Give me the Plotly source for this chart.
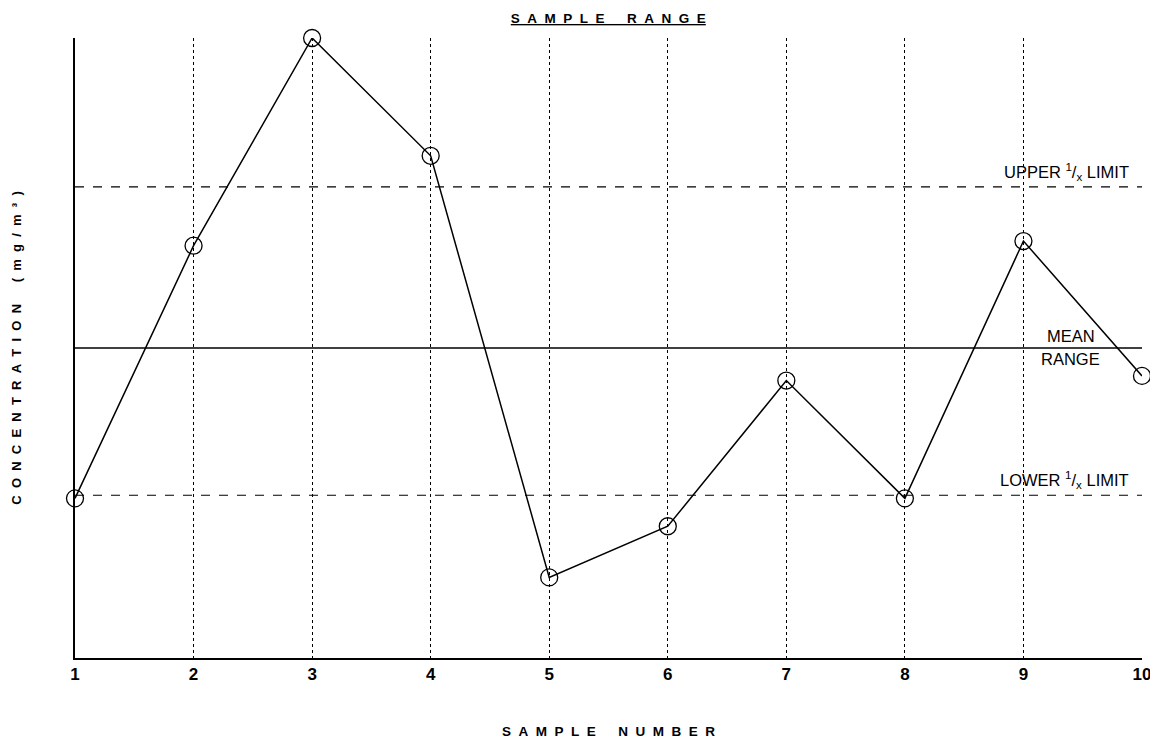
import plotly.graph_objects as go

# ---- data ----
sample_numbers = [1, 2, 3, 4, 5, 6, 7, 8, 9, 10]
concentration = [5.15, 13.3, 20.0, 16.2, 2.6, 4.25, 8.95, 5.15, 13.45, 9.1]
mean_range = 10.0
upper_limit = 15.2
lower_limit = 5.25
tick_labels = ["1", "2", "3", "4", "5", "6", "7", "8", "9", "10"]

FONT = "Liberation Sans, Arial, sans-serif"

def spaced(s, n=2):
    gap = "\u00a0" * n
    return gap.join(ch if ch != " " else "\u00a0\u00a0" for ch in s)

fig = go.Figure()

fig.add_trace(go.Scatter(
    x=sample_numbers, y=concentration, mode="lines+markers",
    line=dict(color="black", width=1.5),
    marker=dict(symbol="circle-open", size=17, color="black", line=dict(width=1.3)),
    cliponaxis=False, showlegend=False, hoverinfo="skip",
))

# reference lines
fig.add_hline(y=mean_range, line=dict(color="black", width=1.5))
fig.add_hline(y=upper_limit, line=dict(color="black", width=1.2, dash="dash"))
fig.add_hline(y=lower_limit, line=dict(color="black", width=1.2, dash="dash"))

ann_font = dict(family=FONT, size=16.5, color="black")
fig.add_annotation(x=0.99, xref="paper", y=upper_limit, yref="y", yshift=15,
                   text="UPPER <sup>1</sup>/<sub>x</sub> LIMIT", showarrow=False,
                   xanchor="right", font=ann_font)
fig.add_annotation(x=0.99, xref="paper", y=lower_limit, yref="y", yshift=15,
                   text="LOWER <sup>1</sup>/<sub>x</sub> LIMIT", showarrow=False,
                   xanchor="right", font=ann_font)
fig.add_annotation(x=0.933, xref="paper", y=mean_range, yref="y", yshift=12,
                   text="MEAN", showarrow=False, xanchor="center", font=ann_font)
fig.add_annotation(x=0.933, xref="paper", y=mean_range, yref="y", yshift=-11,
                   text="RANGE", showarrow=False, xanchor="center", font=ann_font)

# the page body has an 8px default margin, so the figure is sized to fit
fig.update_layout(
    width=1150, height=733,
    margin=dict(l=67, r=16, t=30, b=83),
    paper_bgcolor="white", plot_bgcolor="white",
    title=dict(text="<b><u>" + spaced("SAMPLE RANGE") + "</u></b>", x=0.522, xanchor="center",
               y=0.986, yanchor="middle", font=dict(family=FONT, size=13.5, color="black")),
    xaxis=dict(
        range=[1, 10], tickmode="array", tickvals=sample_numbers, ticktext=tick_labels,
        showgrid=True, gridcolor="black", griddash="dot", gridwidth=1,
        showline=True, linecolor="black", linewidth=2, ticks="", zeroline=False,
        automargin=False,
        tickfont=dict(family=FONT, size=17, color="black", weight="bold"),
        title=dict(text="<b>" + spaced("SAMPLE NUMBER") + "</b>",
                   font=dict(family=FONT, size=13.5, color="black"), standoff=43),
    ),
    yaxis=dict(
        range=[0, 20], showticklabels=False, showgrid=False, zeroline=False,
        showline=True, linecolor="black", linewidth=2, ticks="", automargin=False,
        title=dict(text="<b>" + spaced("CONCENTRATION (mg/m³)") + "</b>",
                   font=dict(family=FONT, size=13, color="black"), standoff=48),
    ),
)

fig.write_html("out.html")
